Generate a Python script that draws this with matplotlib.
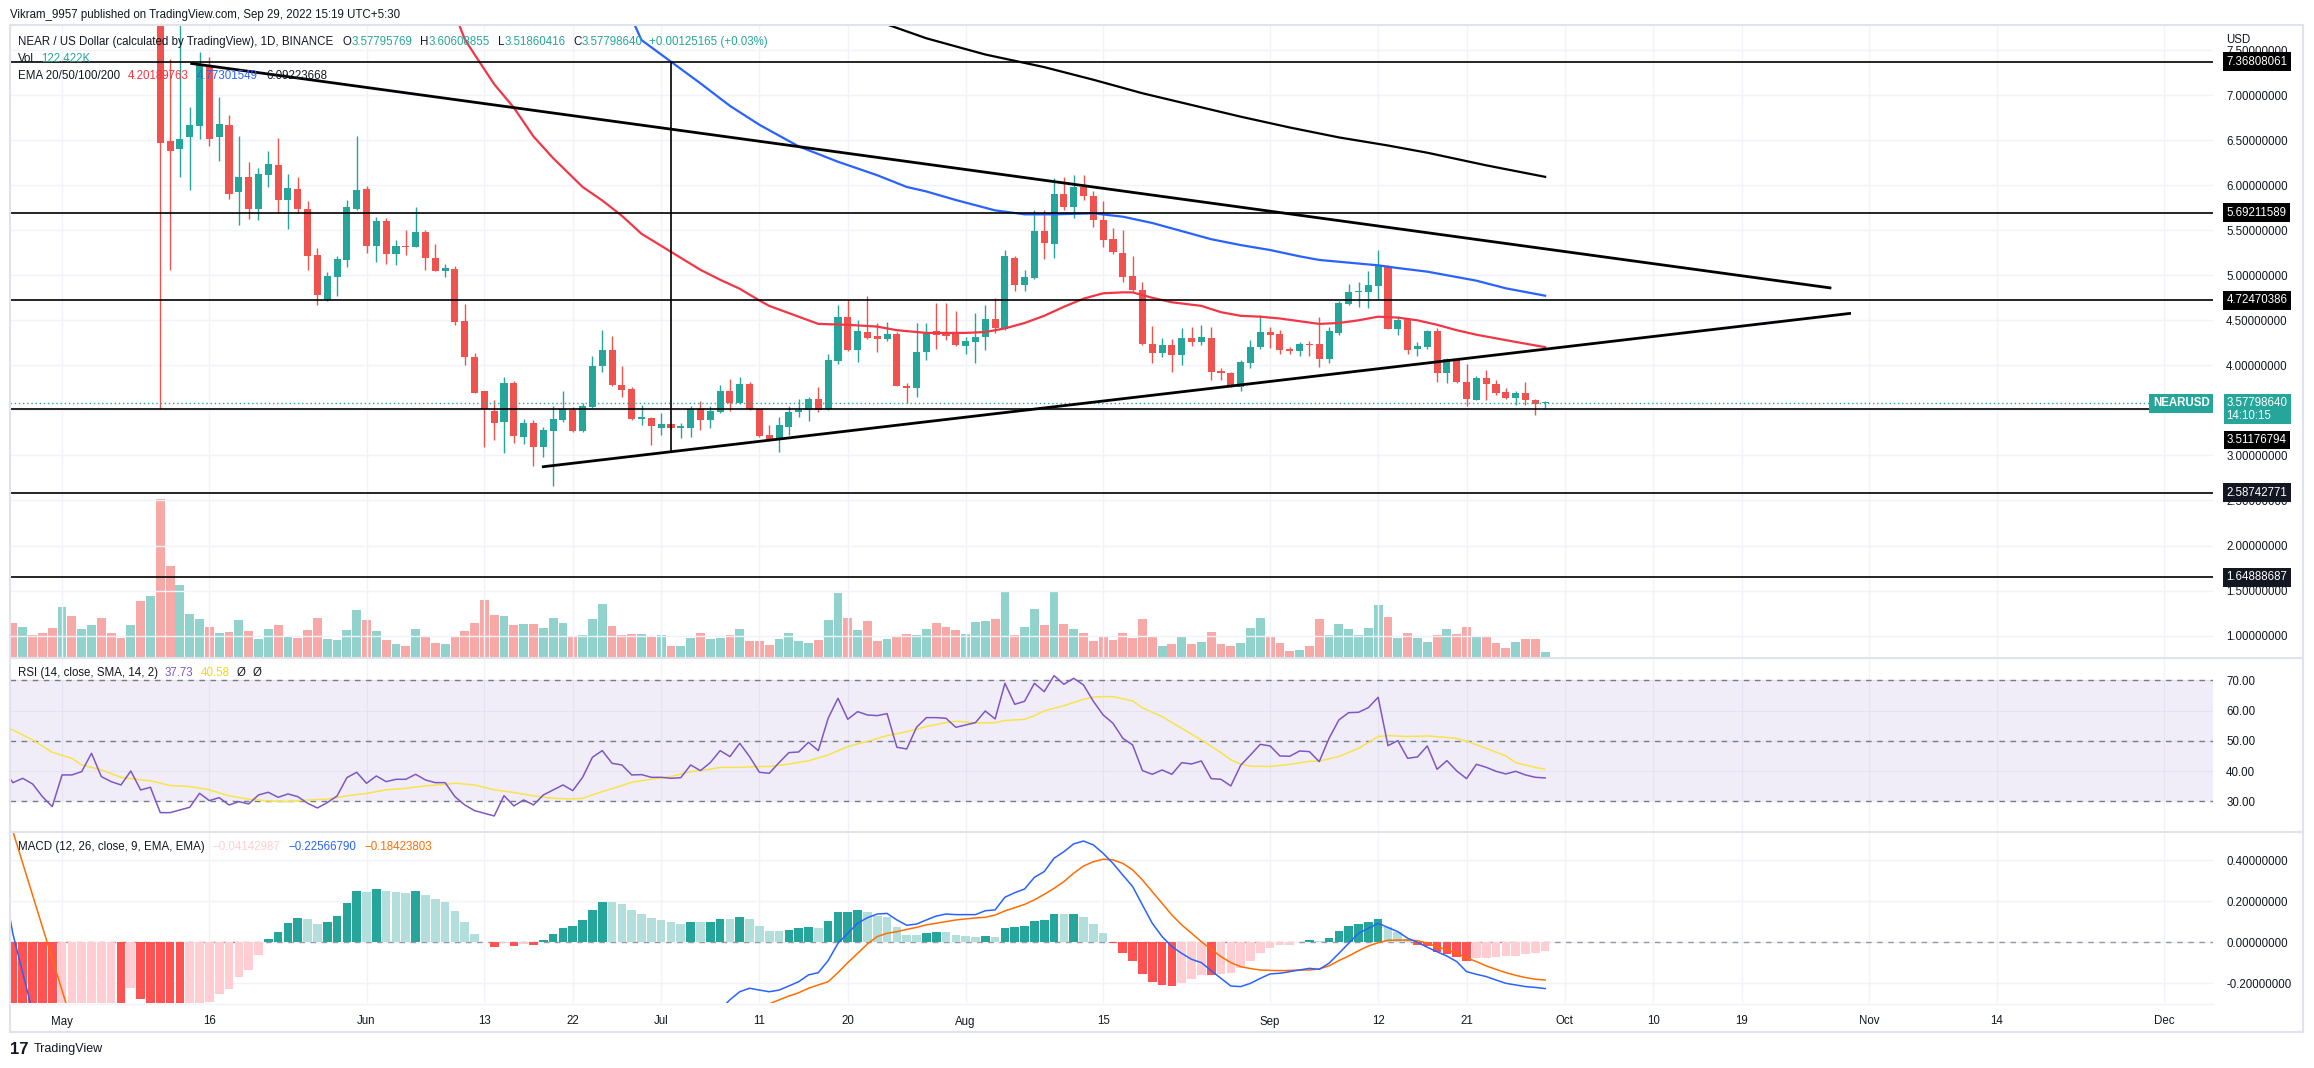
import numpy as np
import matplotlib
matplotlib.use("Agg")
import matplotlib.pyplot as plt
from matplotlib.lines import Line2D
from matplotlib.patches import Rectangle
from matplotlib.transforms import blended_transform_factory, offset_copy

plt.rcParams["font.family"] = ["Liberation Sans", "DejaVu Sans"]

# x values are days counted from 1 May 2022 (Sep 29 = 151)
candle_start = 10
opens = [8.20, 6.49, 6.40, 6.53, 6.66, 7.33, 6.53, 6.67, 5.92, 6.09,
         5.74, 6.11, 6.22, 5.83, 5.96, 5.74, 5.22, 4.73, 4.98, 5.17,
         5.74, 5.96, 5.33, 5.60, 5.24, 5.32, 5.31, 5.48, 5.19, 5.05,
         5.07, 4.49, 4.09, 3.71, 3.49, 3.37, 3.80, 3.21, 3.36, 3.09,
         3.27, 3.39, 3.50, 3.27, 3.54, 3.99, 4.17, 3.78, 3.74, 3.40,
         3.42, 3.31, 3.35, 3.30, 3.31, 3.51, 3.39, 3.48, 3.71, 3.58,
         3.79, 3.52, 3.23, 3.19, 3.32, 3.48, 3.50, 3.63, 3.51, 4.05,
         4.54, 4.17, 4.37, 4.33, 4.29, 4.35, 3.77, 3.75, 4.15, 4.38,
         4.36, 4.36, 4.22, 4.26, 4.31, 4.51, 4.40, 5.19, 4.89, 4.97,
         5.49, 5.35, 5.90, 5.76, 5.98, 5.88, 5.61, 5.40, 5.25, 4.99,
         4.84, 4.24, 4.14, 4.23, 4.11, 4.30, 4.26, 4.30, 3.94, 3.91,
         3.76, 4.03, 4.20, 4.37, 4.35, 4.18, 4.16, 4.24, 4.24, 4.07,
         4.36, 4.68, 4.81, 4.81, 4.88, 5.10, 4.40, 4.51, 4.18, 4.20,
         4.38, 3.91, 4.07, 3.81, 3.62, 3.86, 3.79, 3.70, 3.64, 3.69,
         3.62, 3.57795769]
highs = [8.50, 7.40, 7.80, 6.87, 7.48, 7.42, 6.98, 6.78, 6.54, 6.26,
         6.19, 6.38, 6.52, 6.12, 6.09, 5.82, 5.30, 5.04, 5.21, 5.83,
         6.54, 5.99, 5.65, 5.63, 5.39, 5.50, 5.76, 5.50, 5.35, 5.12,
         5.10, 4.68, 4.14, 3.72, 3.61, 3.87, 3.83, 3.40, 3.39, 3.32,
         3.55, 3.71, 3.54, 3.58, 4.10, 4.39, 4.33, 3.99, 3.76, 3.56,
         3.43, 3.47, 3.36, 3.36, 3.55, 3.60, 3.55, 3.78, 3.85, 3.87,
         3.82, 3.52, 3.34, 3.43, 3.55, 3.63, 3.65, 3.76, 4.13, 4.67,
         4.73, 4.50, 4.77, 4.47, 4.48, 4.37, 3.80, 4.47, 4.47, 4.69,
         4.69, 4.60, 4.31, 4.58, 4.67, 4.75, 5.28, 5.21, 5.06, 5.72,
         5.72, 6.08, 6.09, 6.11, 6.11, 5.93, 5.82, 5.52, 5.50, 5.21,
         4.93, 4.44, 4.30, 4.29, 4.41, 4.43, 4.45, 4.43, 3.97, 3.93,
         4.06, 4.28, 4.56, 4.43, 4.39, 4.20, 4.26, 4.27, 4.54, 4.43,
         4.71, 4.90, 4.93, 5.05, 5.28, 5.11, 4.55, 4.53, 4.26, 4.39,
         4.41, 4.08, 4.08, 4.02, 3.88, 3.95, 3.84, 3.75, 3.72, 3.82,
         3.63, 3.60608855]
lows = [3.51176794, 5.06, 6.09, 5.95, 6.51, 6.43, 6.27, 5.85, 5.56, 5.62,
        5.61, 5.98, 5.69, 5.51, 5.69, 5.06, 4.67, 4.71, 4.77, 5.09,
        5.72, 5.25, 5.15, 5.13, 5.11, 5.22, 5.31, 5.06, 5.05, 4.98,
        4.45, 4.00, 3.69, 3.09, 3.17, 3.03, 3.14, 3.13, 2.88, 2.98,
        2.66, 3.37, 3.26, 3.26, 3.53, 3.93, 3.77, 3.65, 3.39, 3.34,
        3.12, 3.23, 3.29, 3.19, 3.21, 3.28, 3.31, 3.47, 3.49, 3.57,
        3.50, 3.21, 3.17, 3.04, 3.23, 3.43, 3.38, 3.48, 3.50, 4.02,
        4.16, 4.04, 4.29, 4.15, 4.27, 3.77, 3.58, 3.65, 4.06, 4.18,
        4.28, 4.21, 4.13, 4.03, 4.17, 4.36, 4.39, 4.82, 4.82, 4.96,
        5.18, 5.19, 5.72, 5.64, 5.84, 5.54, 5.31, 5.24, 4.93, 4.83,
        4.23, 4.03, 4.09, 3.93, 4.00, 4.21, 4.23, 3.84, 3.84, 3.76,
        3.71, 3.97, 4.18, 4.19, 4.13, 4.13, 4.10, 4.10, 3.98, 4.03,
        4.34, 4.67, 4.65, 4.64, 4.73, 4.40, 4.34, 4.13, 4.10, 4.18,
        3.82, 3.80, 3.80, 3.55, 3.62, 3.62, 3.67, 3.63, 3.56, 3.56,
        3.45, 3.51860416]
closes = [6.47, 6.38, 6.51, 6.67, 7.33, 6.51, 6.68, 5.90, 6.09, 5.74,
          6.12, 6.23, 5.83, 5.97, 5.74, 5.21, 4.78, 4.99, 5.18, 5.76,
          5.95, 5.33, 5.60, 5.24, 5.32, 5.31, 5.48, 5.19, 5.05, 5.08,
          4.48, 4.09, 3.69, 3.52, 3.36, 3.80, 3.22, 3.36, 3.09, 3.28,
          3.40, 3.51, 3.27, 3.55, 3.99, 4.17, 3.78, 3.73, 3.40, 3.43,
          3.33, 3.35, 3.30, 3.33, 3.51, 3.39, 3.49, 3.71, 3.58, 3.79,
          3.52, 3.22, 3.18, 3.34, 3.48, 3.50, 3.63, 3.50, 4.06, 4.54,
          4.17, 4.38, 4.30, 4.29, 4.35, 3.77, 3.75, 4.15, 4.37, 4.34,
          4.33, 4.23, 4.27, 4.32, 4.51, 4.42, 5.21, 4.89, 4.98, 5.49,
          5.36, 5.90, 5.76, 5.98, 5.88, 5.61, 5.39, 5.26, 4.98, 4.84,
          4.24, 4.14, 4.23, 4.11, 4.30, 4.26, 4.31, 3.93, 3.91, 3.77,
          4.04, 4.20, 4.37, 4.34, 4.17, 4.16, 4.24, 4.23, 4.07, 4.38,
          4.69, 4.81, 4.82, 4.89, 5.10, 4.40, 4.50, 4.17, 4.21, 4.38,
          3.91, 4.07, 3.81, 3.63, 3.86, 3.79, 3.69, 3.64, 3.69, 3.61,
          3.57, 3.57798640]

# volume in thousands, from Apr 26 (day -5)
vol_start = -5
volumes = [788, 696, 513, 558, 673, 1155, 949, 650, 742, 903,
           558, 444, 742, 1293, 1408, 3634, 2096, 1660, 995, 880,
           696, 558, 581, 857, 604, 421, 650, 742, 467, 444,
           627, 903, 421, 398, 627, 1086, 857, 604, 398, 306,
           260, 650, 490, 329, 306, 490, 604, 788, 1316, 972,
           949, 742, 765, 765, 673, 903, 788, 490, 513, 880,
           1224, 719, 513, 536, 536, 467, 505, 260, 260, 444,
           558, 421, 444, 513, 650, 375, 375, 283, 421, 558,
           375, 329, 398, 857, 1476, 903, 627, 834, 375, 421,
           467, 536, 513, 650, 788, 696, 627, 536, 811, 834,
           880, 1499, 513, 696, 1109, 742, 1499, 765, 650, 558,
           375, 490, 398, 558, 444, 880, 490, 260, 306, 490,
           306, 352, 581, 306, 260, 329, 673, 903, 490, 329,
           145, 168, 260, 880, 513, 765, 650, 513, 673, 1201,
           926, 444, 558, 444, 352, 513, 650, 536, 696, 490,
           490, 329, 214, 352, 421, 421, 122]
# direction of the days whose candles sit above the visible range (d-5 .. d9)
early_vol_dir = "duddduduudddudu"

# EMA lines sampled from the chart (day, value)
ema50_days = [40, 41, 42, 44, 46, 48, 50, 53, 55, 57, 59, 62, 65, 67, 69, 71, 72, 75, 77, 80,
              83, 85, 88, 92, 94, 96, 98, 100, 102, 104, 106, 108, 109, 111, 113, 116, 118, 120,
              122, 124, 126, 128, 130, 132, 134, 136, 138, 140, 142, 144, 146, 148, 151]
ema50_vals = [7.90, 7.62, 7.45, 7.12, 6.86, 6.54, 6.30, 5.98, 5.83, 5.66, 5.46, 5.26, 5.06, 4.95,
              4.85, 4.72, 4.66, 4.54, 4.46, 4.45, 4.43, 4.39, 4.36, 4.36, 4.37, 4.41, 4.47, 4.55,
              4.65, 4.74, 4.80, 4.81, 4.81, 4.75, 4.70, 4.66, 4.59, 4.55, 4.54, 4.52, 4.49, 4.46,
              4.47, 4.50, 4.54, 4.53, 4.50, 4.45, 4.39, 4.34, 4.30, 4.26, 4.2019]
ema100_days = [58, 59, 62, 65, 68, 71, 75, 79, 83, 86, 88, 91, 95, 98, 101, 105, 108, 111, 114,
               117, 120, 123, 126, 128, 131, 134, 136, 139, 141, 144, 147, 151]
ema100_vals = [7.85, 7.61, 7.37, 7.13, 6.88, 6.67, 6.43, 6.26, 6.11, 5.98, 5.93, 5.835, 5.72,
               5.676, 5.676, 5.687, 5.65, 5.58, 5.49, 5.40, 5.335, 5.28, 5.21, 5.17, 5.14, 5.11,
               5.08, 5.04, 5.00, 4.94, 4.855, 4.773]
ema200_days = [82, 88, 94, 100, 105, 110, 115, 120, 125, 130, 135, 139, 145, 151]
ema200_vals = [7.86, 7.63, 7.45, 7.31, 7.17, 7.02, 6.89, 6.76, 6.64, 6.53, 6.44, 6.36, 6.22, 6.0922]

# drawings
h_levels = [7.36808061, 5.69211589, 4.72470386, 3.51176794, 2.58742771, 1.64888687]
upper_tl = ([13.2, 180.0], [7.35, 4.86])
lower_tl = ([49.0, 182.0], [2.875, 4.576])
v_line = ([62.0, 62.0], [7.36808061, 3.04])
last_price = 3.57798640

# RSI from day -6
rsi_start = -6
rsi = [40.6, 36.17, 37.60, 35.73, 31.54, 28.24, 38.71, 38.71, 39.81, 45.87, 38.15,
       36.50, 35.40, 40.03, 33.75, 34.63, 26.25, 26.25, 27.13, 28.02, 32.64,
       30.22, 31.21, 28.79, 29.89, 29.12, 32.09, 32.98, 31.32, 32.42, 31.54,
       29.34, 27.80, 29.56, 31.76, 37.82, 39.59, 35.95, 38.37, 36.50, 37.27,
       37.27, 38.93, 37.05, 36.17, 36.17, 31.54, 28.79, 26.92, 26.03, 25.15,
       31.87, 28.46, 30.44, 28.79, 32.09, 33.75, 35.40, 33.53, 37.93, 44.55,
       46.75, 42.56, 42.01, 38.71, 38.82, 37.93, 37.93, 37.60, 37.82, 42.01,
       40.14, 42.78, 46.75, 44.77, 49.17, 44.77, 39.59,
       39.26, 42.78, 46.09, 46.31, 49.50, 46.75, 57.44, 64.05, 57.11, 59.64,
       58.54, 58.32, 58.98, 47.85, 47.30, 54.46, 57.66, 57.66, 57.44, 54.46,
       55.23, 56.01, 59.86, 57.22, 69.01, 62.07, 63.06, 69.01, 66.25, 71.54,
       68.68, 70.66, 68.46, 63.06, 58.54, 55.79, 50.83, 48.62, 40.14, 38.93,
       40.36, 38.93, 42.78, 42.34, 43.33, 37.49, 37.27, 35.07, 41.90, 45.32,
       48.84, 48.29, 44.99, 44.88, 46.64, 46.42, 43.11, 50.83, 56.89, 59.31,
       59.42, 60.96, 64.38, 48.40, 50.06, 44.21, 44.66, 48.29, 40.58, 43.44,
       40.03, 37.49, 42.23, 41.24, 39.92, 39.04, 39.92, 38.71, 37.93, 37.73]
rsi_ma_days = [-6, -5, -3, -1, 1, 2, 4, 6, 8, 9, 11, 13, 15, 17, 19, 21, 23, 25, 27, 29, 31, 33,
               35, 37, 39, 40, 42, 44, 46, 48, 50, 52, 53, 55, 57, 58, 60, 62, 64, 66, 67, 69,
               71, 72, 74, 76, 78, 80, 82, 84, 86, 88, 90, 91, 93, 95, 96, 98, 99, 100, 102,
               104, 105, 106, 107, 108, 109, 110, 112, 114, 116, 118, 119, 120, 121, 123, 125,
               127, 128, 130, 132, 134, 135, 137, 139, 141, 142, 143, 145, 147, 148, 150, 151]
rsi_ma = [55.0, 53.6, 50.3, 46.2, 44.2, 42.0, 40.4, 37.9, 37.1, 36.8, 35.2, 34.9, 33.8, 31.8,
          30.7, 30.1, 29.9, 30.4, 30.7, 31.8, 32.6, 33.8, 34.3, 35.1, 35.6, 36.0, 35.4, 33.8,
          32.9, 31.8, 31.0, 30.8, 31.0, 33.2, 35.2, 36.3, 37.3, 38.2, 39.8, 40.6, 41.2, 41.2,
          41.5, 41.5, 42.3, 43.4, 45.3, 48.1, 49.8, 51.7, 53.0, 54.7, 56.0, 56.5, 55.9, 56.0,
          56.7, 57.1, 58.3, 59.9, 61.6, 63.7, 64.4, 64.6, 64.6, 63.9, 63.2, 60.9, 58.0, 54.1,
          50.3, 46.1, 43.7, 42.3, 41.6, 41.5, 42.2, 43.2, 43.3, 44.8, 47.5, 51.4, 51.7, 51.4,
          51.6, 51.1, 50.8, 49.9, 47.5, 45.0, 42.8, 41.2, 40.58]

# MACD histogram from day -6
hist_start = -6
macd_hist = [-0.35, -0.40, -0.45, -0.48, -0.50, -0.52, -0.50, -0.47, -0.44, -0.40,
             -0.36, -0.32, -0.34, -0.224, -0.276, -0.30, -0.34, -0.38, -0.40, -0.37,
             -0.33, -0.29, -0.252, -0.229, -0.167, -0.135, -0.062, 0.016, 0.050, 0.094,
             0.119, 0.114, 0.089, 0.099, 0.128, 0.192, 0.250, 0.246, 0.260, 0.252,
             0.246, 0.242, 0.250, 0.231, 0.211, 0.197, 0.153, 0.099, 0.041, 0.003,
             -0.024, -0.005, -0.016, -0.008, -0.013, 0.011, 0.041, 0.072, 0.081, 0.111,
             0.159, 0.198, 0.196, 0.187, 0.159, 0.138, 0.119, 0.109, 0.099, 0.089,
             0.099, 0.097, 0.099, 0.114, 0.112, 0.124, 0.114, 0.080, 0.057, 0.056,
             0.060, 0.068, 0.075, 0.072, 0.106, 0.148, 0.149, 0.158, 0.148, 0.130,
             0.124, 0.075, 0.037, 0.036, 0.046, 0.050, 0.049, 0.036, 0.031, 0.028,
             0.031, 0.026, 0.070, 0.075, 0.080, 0.104, 0.109, 0.138, 0.137, 0.139,
             0.124, 0.089, 0.046, -0.002, -0.050, -0.089, -0.154, -0.192, -0.208, -0.213,
             -0.197, -0.177, -0.158, -0.159, -0.154, -0.151, -0.124, -0.089, -0.050, -0.026,
             -0.015, -0.011, 0.003, 0.011, 0.007, 0.023, 0.055, 0.080, 0.089, 0.099,
             0.114, 0.075, 0.052, 0.018, -0.013, -0.016, -0.046, -0.057, -0.070, -0.089,
             -0.076, -0.075, -0.074, -0.068, -0.065, -0.055, -0.050, -0.04142987]
macd_a_days = [-6, -5, -4, -3, -2]
macd_a = [0.30, 0.04, -0.15, -0.34, -0.52]
macd_b_start = 67
macd_b = [-0.33, -0.28, -0.241, -0.224, -0.233,
          -0.241, -0.233, -0.213, -0.192, -0.159, -0.148, -0.089, -0.005, 0.044, 0.093,
          0.120, 0.138, 0.141, 0.109, 0.083, 0.089, 0.109, 0.128, 0.138, 0.135,
          0.135, 0.135, 0.154, 0.158, 0.220, 0.242, 0.260, 0.317, 0.345, 0.410,
          0.442, 0.480, 0.494, 0.475, 0.434, 0.385, 0.328, 0.272, 0.182, 0.093,
          0.028, -0.021, -0.054, -0.083, -0.099, -0.138, -0.176, -0.213, -0.216, -0.200,
          -0.176, -0.154, -0.151, -0.143, -0.135, -0.127, -0.132, -0.102, -0.054, -0.005,
          0.044, 0.068, 0.093, 0.072, 0.052, 0.020, 0.000, -0.024, -0.046, -0.067,
          -0.094, -0.143, -0.156, -0.167, -0.184, -0.200, -0.208, -0.216, -0.220, -0.22566790]
signal_a_days = [-6, -5, -4, -3, -2, -1, 0, 1]
signal_a = [0.70, 0.54, 0.385, 0.23, 0.075, -0.08, -0.235, -0.39]
signal_b_start = 72
signal_b = [-0.30, -0.281, -0.262, -0.246, -0.224, -0.208, -0.192, -0.148, -0.099, -0.054,
            -0.008, 0.028, 0.044, 0.052, 0.063, 0.073, 0.085, 0.093, 0.101, 0.109,
            0.114, 0.119, 0.122, 0.133, 0.153, 0.169, 0.185, 0.207, 0.234, 0.263,
            0.296, 0.337, 0.372, 0.393, 0.405, 0.402, 0.385, 0.353, 0.304, 0.247,
            0.190, 0.133, 0.085, 0.044, 0.003, -0.034, -0.070, -0.099, -0.119, -0.128,
            -0.135, -0.137, -0.138, -0.137, -0.135, -0.135, -0.130, -0.115, -0.089, -0.067,
            -0.041, -0.018, -0.002, 0.010, 0.011, 0.011, 0.008, -0.005, -0.021, -0.037,
            -0.054, -0.075, -0.094, -0.115, -0.132, -0.148, -0.161, -0.172, -0.180, -0.18423803]

tick_days = [0, 15, 31, 43, 52, 61, 71, 80, 92, 106, 123, 134, 143, 153, 162, 171, 184, 197, 214]
tick_labels = ["May", "16", "Jun", "13", "22", "Jul", "11", "20", "Aug", "15",
               "Sep", "12", "21", "Oct", "10", "19", "Nov", "14", "Dec"]
# price ticks whose labels the scale tags cover in the original
covered_ticks = [3.5]

# ---- colours ----
UP, DN = "#26a69a", "#ef5350"
DARK = "#131722"
GRID = "#f0f3fa"
BORDER = "#e0e3eb"

W, H = 2314, 1068
fig = plt.figure(figsize=(W / 100, H / 100), dpi=100)
fig.patch.set_facecolor("white")


def rect(l, t, r, b):
    return [l / W, 1 - b / H, (r - l) / W, (b - t) / H]


PL, PR = 10, 2213
X0, X1 = -5.3, 219.0

ax_vol = fig.add_axes(rect(PL, 25, PR, 657))
ax = fig.add_axes(rect(PL, 25, PR, 657), sharex=ax_vol)
ax_rsi = fig.add_axes(rect(PL, 658, PR, 831), sharex=ax_vol)
ax_macd = fig.add_axes(rect(PL, 832, PR, 1003), sharex=ax_vol)
ax.patch.set_visible(False)

# volume
vdays = np.arange(vol_start, vol_start + len(volumes))
cdir = ["u" if c >= o else "d" for o, c in zip(opens, closes)]
vdir = list(early_vol_dir) + cdir
vcols = ["#92d2cc" if d == "u" else "#f7a9a7" for d in vdir]
ax_vol.bar(vdays, volumes, width=0.9, color=vcols, linewidth=0)
ax_vol.set_ylim(0, 632 * 22.95)
ax_vol.set_axis_off()

# candles
cdays = np.arange(candle_start, candle_start + len(opens))
ccols = [UP if d == "u" else DN for d in cdir]
ax.vlines(cdays, lows, highs, colors=ccols, lw=1.0, zorder=3)
ax.bar(cdays, [max(abs(c - o), 0.012) for o, c in zip(opens, closes)],
       bottom=[min(o, c) for o, c in zip(opens, closes)],
       width=0.72, color=ccols, linewidth=0, zorder=4)

ax.plot(ema50_days, ema50_vals, color="#f23645", lw=1.6, zorder=5)
ax.plot(ema100_days, ema100_vals, color="#2962ff", lw=1.6, zorder=5)
ax.plot(ema200_days, ema200_vals, color="black", lw=1.6, zorder=5)

for lv in h_levels:
    ax.axhline(lv, color="black", lw=1.2, zorder=6)
ax.axhline(last_price, color=UP, lw=1.0, ls=(0, (1, 2)), zorder=6)
ax.plot(*upper_tl, color="black", lw=2.0, zorder=7)
ax.plot(*lower_tl, color="black", lw=2.0, zorder=7)
ax.plot(*v_line, color="black", lw=1.2, zorder=7)

ax.set_ylim(0.763, 7.7775)
ax.set_yticks(np.arange(1.0, 7.6, 0.5))
ax.yaxis.set_major_formatter(
    lambda v, p: "" if any(abs(v - c) < 1e-6 for c in covered_ticks) else f"{v:.8f}")

# RSI
rdays = np.arange(rsi_start, rsi_start + len(rsi))
ax_rsi.fill_between([X0, X1], 30, 70, color="#7e57c2", alpha=0.1, lw=0)
for lv in (70, 50, 30):
    ax_rsi.axhline(lv, color="#787b86", lw=1.0, ls=(0, (4, 4)))
ax_rsi.plot(rdays, rsi, color="#7e57c2", lw=1.1, zorder=4)
ax_rsi.plot(rsi_ma_days, rsi_ma, color="#f7e44a", lw=1.1, zorder=3)
ax_rsi.set_ylim(20.18, 77.37)
ax_rsi.set_yticks([30, 40, 50, 60, 70])
ax_rsi.yaxis.set_major_formatter(lambda v, p: f"{v:.2f}")

# MACD
hdays = np.arange(hist_start, hist_start + len(macd_hist))
hcols = []
for i, v in enumerate(macd_hist):
    prev = macd_hist[i - 1] if i else v
    if v >= 0:
        hcols.append("#26a69a" if v >= prev else "#b2dfdb")
    else:
        hcols.append("#ff5252" if v < prev else "#ffcdd2")
ax_macd.bar(hdays, macd_hist, width=0.88, color=hcols, linewidth=0, zorder=2)
ax_macd.axhline(0, color="#9598a1", lw=1.0, ls=(0, (4, 4)), zorder=1)
ax_macd.plot(macd_a_days, macd_a, color="#2962ff", lw=1.1, zorder=4)
ax_macd.plot(np.arange(macd_b_start, macd_b_start + len(macd_b)), macd_b, color="#2962ff", lw=1.1, zorder=4)
ax_macd.plot(signal_a_days, signal_a, color="#ff6d00", lw=1.1, zorder=3)
ax_macd.plot(np.arange(signal_b_start, signal_b_start + len(signal_b)), signal_b, color="#ff6d00", lw=1.1, zorder=3)
ax_macd.set_ylim(-0.296, 0.538)
ax_macd.set_yticks([-0.2, 0.0, 0.2, 0.4])
ax_macd.yaxis.set_major_formatter(lambda v, p: f"{v:.8f}")

for a in (ax, ax_rsi, ax_macd):
    a.set_xlim(X0, X1)
    a.set_xticks(tick_days)
    a.grid(True, color=GRID, lw=1.0)
    a.set_axisbelow(True)
    for s in a.spines.values():
        s.set_visible(False)
    a.yaxis.tick_right()
    a.tick_params(axis="y", length=0, pad=9.5, labelsize=8.3, labelcolor=DARK)
    a.tick_params(axis="x", length=0, labelbottom=False)
ax_macd.set_xticklabels(tick_labels)
ax_macd.tick_params(axis="x", labelbottom=True, pad=9, labelsize=8.3, labelcolor=DARK)

# price scale tags
ptr = blended_transform_factory(ax.transAxes, ax.transData)


def tag(y, text, bg, dy=0, x=1.0062, ha="left", weight="normal", pad=0.3):
    tr = offset_copy(ptr, fig=fig, y=dy, units="dots") if dy else ptr
    ax.text(x, y, text, transform=tr, ha=ha, va="center", color="white", fontsize=8.3,
            fontweight=weight, linespacing=1.05, zorder=20, clip_on=False,
            bbox=dict(boxstyle=f"square,pad={pad}", fc=bg, ec="none"))


for lv in h_levels:
    if lv == 3.51176794:
        continue
    tag(lv, f"{lv:.8f}", "#131722" if lv < 3 else "black")
tag(3.51176794, "3.51176794", "black", dy=-31, pad=0.25)
tag(last_price, f"{last_price:.8f}\n14:10:15", UP, dy=-6, pad=0.25)
tag(last_price, "NEARUSD", UP, x=0.9985, ha="right", weight="bold")

# header / legends
rend = fig.canvas.get_renderer()


def row(x, y, parts, size=8.3):
    for text, color, gap in parts:
        t = fig.text(x / W, 1 - y / H, text, color=color, fontsize=size, ha="left", va="center")
        x = t.get_window_extent(rend).x1 + gap


row(10, 15, [("Vikram_9957 published on TradingView.com, Sep 29, 2022 15:19 UTC+5:30", DARK, 0)])
row(18, 42, [("NEAR / US Dollar (calculated by TradingView), 1D, BINANCE", DARK, 9),
             ("O", DARK, 0), ("3.57795769", UP, 8), ("H", DARK, 0), ("3.60608855", UP, 8),
             ("L", DARK, 0), ("3.51860416", UP, 8), ("C", DARK, 0), ("3.57798640", UP, 6),
             ("+0.00125165 (+0.03%)", UP, 0)])
row(18, 59, [("Vol", DARK, 7), ("122.422K", UP, 0)])
row(18, 76, [("EMA 20/50/100/200", DARK, 8), ("4.20189763", "#f23645", 8),
             ("4.77301549", "#2962ff", 8), ("6.09223668", DARK, 0)])
row(18, 673, [("RSI (14, close, SMA, 14, 2)", DARK, 7), ("37.73", "#7e57c2", 7),
              ("40.58", "#f5d90a", 7), ("\u00d8", DARK, 7), ("\u00d8", DARK, 0)])
row(18, 847, [("MACD (12, 26, close, 9, EMA, EMA)", DARK, 8), ("\u22120.04142987", "#ffcdd2", 8),
              ("\u22120.22566790", "#2962ff", 8), ("\u22120.18423803", "#ff6d00", 0)])
fig.text(2226 / W, 1 - 40 / H, "USD", fontsize=8.3, color=DARK, ha="left", va="center")

# frame and pane separators
fig.add_artist(Rectangle((PL / W, 1 - 1032 / H), (2303 - PL) / W, (1032 - 25) / H,
                         transform=fig.transFigure, fill=False, ec=BORDER, lw=1.5))
for yy in (657.5, 831.5):
    fig.add_artist(Line2D([PL / W, 2303 / W], [1 - yy / H] * 2, transform=fig.transFigure,
                          color=BORDER, lw=1.5))
fig.add_artist(Line2D([PL / W, PR / W], [1 - 1003.5 / H] * 2, transform=fig.transFigure,
                      color=GRID, lw=1.0))

# logo
row(10, 1049, [("17", DARK, 4)], size=12)
fig.texts[-1].set_fontweight("black")
row(34, 1049, [("TradingView", DARK, 0)], size=9)

fig.savefig("out.png", dpi=100, facecolor="white")
